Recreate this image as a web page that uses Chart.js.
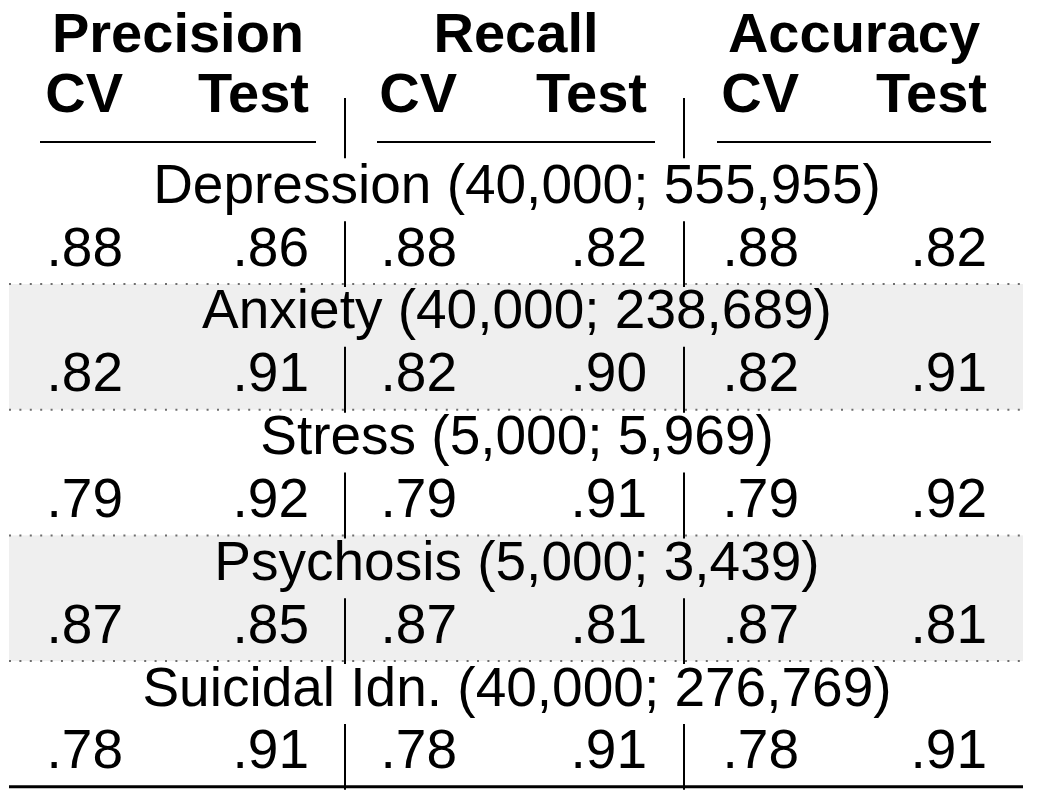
<!DOCTYPE html>
<html><head><meta charset="utf-8">
<script src="https://cdn.jsdelivr.net/npm/chart.js@4/dist/chart.umd.min.js"></script>
<style>html,body{margin:0;padding:0;background:#fff;overflow:hidden}#wrap{width:1050px;height:805px;position:relative}</style>
</head><body><div id="wrap"><canvas id="c"></canvas></div>
<script>
// ---- data ----
const groups = ['Depression', 'Anxiety', 'Stress', 'Psychosis', 'Suicidal Idn.'];
const trainSizes = ['40,000', '40,000', '5,000', '5,000', '40,000'];
const testSizes = ['555,955', '238,689', '5,969', '3,439', '276,769'];
const metrics = ['Precision', 'Recall', 'Accuracy'];
const splits = ['CV', 'Test'];
const precisionCV = [0.88, 0.82, 0.79, 0.87, 0.78];
const precisionTest = [0.86, 0.91, 0.92, 0.85, 0.91];
const recallCV = [0.88, 0.82, 0.79, 0.87, 0.78];
const recallTest = [0.82, 0.90, 0.91, 0.81, 0.91];
const accuracyCV = [0.88, 0.82, 0.79, 0.87, 0.78];
const accuracyTest = [0.82, 0.91, 0.92, 0.81, 0.91];
const shadedGroups = ['Anxiety', 'Psychosis'];

// ---- layout (x in canvas-like units, y in table-row units) ----
const colRight = [123, 309, 457, 647, 799, 987];
const spanLeft = [40, 377, 717];
const spanRight = [316, 655, 991];
const tableLeft = 9, tableRight = 1023, tableCenter = 517;
const sepX = [345, 684];
const BASE = 0.708;          // baseline offset inside a row
const TITLE_Y = -1.693;      // header line 1 baseline
const SPLIT_Y = -0.737;      // header line 2 baseline
const RULE_Y = -0.259;       // header underline
const HEADSEP_TOP = -0.96;
const FONT = "'Liberation Sans', Arial, Helvetica, sans-serif";
const FS = 55, FS_BOLD = 56;

const fmt = v => v.toFixed(2).replace(/^0/, '');
const valueSeries = [precisionCV, precisionTest, recallCV, recallTest, accuracyCV, accuracyTest];

const datasets = [];
valueSeries.forEach((series, c) => datasets.push({
  data: series.map((v, g) => ({x: colRight[c], y: 2 * g + 1 + BASE})),
  texts: series.map(fmt), align: 'right', bold: false
}));
datasets.push({
  data: groups.map((n, g) => ({x: tableCenter, y: 2 * g + BASE})),
  texts: groups.map((n, g) => `${n} (${trainSizes[g]}; ${testSizes[g]})`),
  align: 'center', bold: false
});
datasets.push({
  data: metrics.map((m, i) => ({x: (spanLeft[i] + spanRight[i]) / 2, y: TITLE_Y})),
  texts: metrics, align: 'center', bold: true
});
datasets.push({
  data: colRight.map((x, c) => ({x: x, y: SPLIT_Y})),
  texts: colRight.map((x, c) => splits[c % 2]), align: 'right', bold: true
});
datasets.forEach(d => { d.pointRadius = 0; d.pointHoverRadius = 0; d.showLine = false; });

const tablePlugin = {
  id: 'tablePlugin',
  beforeDatasetsDraw(chart) {
    const ctx = chart.ctx, xs = chart.scales.x, ys = chart.scales.y;
    const X = v => xs.getPixelForValue(v), Y = v => ys.getPixelForValue(v);
    ctx.save();
    // shaded bands
    ctx.fillStyle = '#efefef';
    groups.forEach((n, g) => {
      if (shadedGroups.includes(n)) {
        ctx.fillRect(X(tableLeft), Y(2 * g), X(tableRight) - X(tableLeft), Y(2 * g + 2) - Y(2 * g));
      }
    });
    // dotted separators between groups
    ctx.strokeStyle = '#6e6e6e';
    ctx.lineWidth = 2;
    ctx.setLineDash([2, 8.4]);
    for (let g = 1; g < groups.length; g++) {
      const y = Y(2 * g);
      ctx.beginPath(); ctx.moveTo(X(tableLeft), y); ctx.lineTo(X(tableRight), y); ctx.stroke();
    }
    ctx.setLineDash([]);
    // header underlines
    ctx.strokeStyle = '#000';
    ctx.lineWidth = 1.8;
    spanLeft.forEach((l, i) => {
      const y = Y(RULE_Y);
      ctx.beginPath(); ctx.moveTo(X(l), y); ctx.lineTo(X(spanRight[i]), y); ctx.stroke();
    });
    // vertical separators
    ctx.lineWidth = 2;
    sepX.forEach(x => {
      ctx.beginPath(); ctx.moveTo(X(x), Y(HEADSEP_TOP)); ctx.lineTo(X(x), Y(0)); ctx.stroke();
      groups.forEach((n, g) => {
        ctx.beginPath(); ctx.moveTo(X(x), Y(2 * g + 1)); ctx.lineTo(X(x), Y(2 * g + 2) + 3); ctx.stroke();
      });
    });
    // bottom rule
    ctx.lineWidth = 3;
    ctx.beginPath(); ctx.moveTo(X(tableLeft), Y(2 * groups.length)); ctx.lineTo(X(tableRight), Y(2 * groups.length)); ctx.stroke();
    ctx.restore();
  },
  afterDatasetsDraw(chart) {
    const ctx = chart.ctx;
    ctx.save();
    ctx.fillStyle = '#000';
    ctx.textBaseline = 'alphabetic';
    chart.data.datasets.forEach((ds, i) => {
      const meta = chart.getDatasetMeta(i);
      ctx.font = (ds.bold ? 'bold ' + FS_BOLD : FS) + 'px ' + FONT;
      ctx.textAlign = ds.align;
      meta.data.forEach((el, j) => ctx.fillText(ds.texts[j], el.x, el.y));
    });
    ctx.restore();
  }
};

new Chart(document.getElementById('c'), {
  type: 'scatter',
  data: {datasets},
  options: {
    responsive: true,
    maintainAspectRatio: false,
    animation: false,
    events: [],
    layout: {padding: 0},
    plugins: {legend: {display: false}, tooltip: {enabled: false}},
    scales: {
      x: {type: 'linear', display: false, min: 0, max: 1050},
      y: {type: 'linear', display: false, reverse: true, min: -158.3 / 62.85, max: (805 - 158.3) / 62.85}
    }
  },
  plugins: [tablePlugin]
});
</script>
</body></html>
